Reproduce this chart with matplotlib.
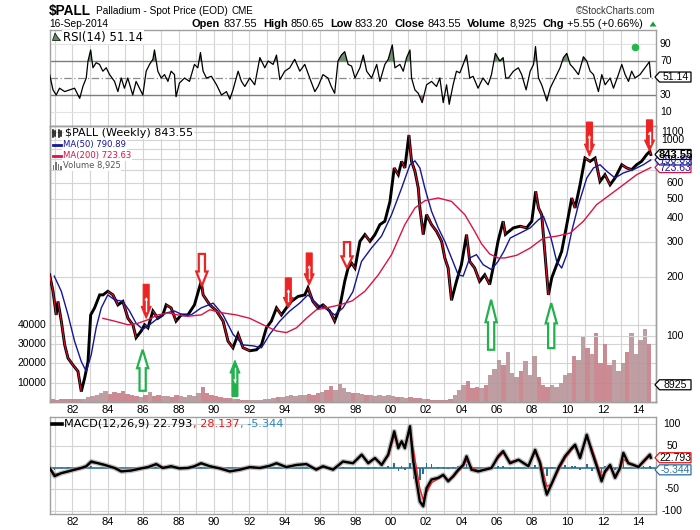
import numpy as np
import matplotlib
matplotlib.use("Agg")
import matplotlib.pyplot as plt
from matplotlib.patches import Polygon, Rectangle
from matplotlib.lines import Line2D
from matplotlib.ticker import NullLocator
from matplotlib.collections import LineCollection

# ---------------- data ----------------
price_t = [1980.71, 1980.90, 1981.08, 1981.18, 1981.37, 1981.56, 1981.75, 1982.03, 1982.31, 1982.50,
           1982.69, 1982.88, 1983.03, 1983.25, 1983.54, 1983.73, 1984.00, 1984.29, 1984.57, 1984.85,
           1985.14, 1985.42, 1985.60, 1985.89, 1986.08, 1986.27, 1986.55, 1986.83, 1987.11, 1987.30,
           1987.58, 1987.86, 1988.15, 1988.53, 1988.90, 1989.28, 1989.39, 1989.77, 1990.15, 1990.52,
           1990.80, 1991.08, 1991.37, 1991.65, 1992.03, 1992.41, 1992.69, 1992.97, 1993.25, 1993.54,
           1993.82, 1994.10, 1994.38, 1994.76, 1995.14, 1995.32, 1995.60, 1995.89, 1996.17, 1996.55,
           1996.83, 1997.11, 1997.40, 1997.59, 1997.79, 1997.98, 1998.26, 1998.54, 1998.83, 1999.11,
           1999.39, 1999.67, 1999.96, 2000.20, 2000.43, 2000.62, 2000.80, 2001.03, 2001.18, 2001.37,
           2001.56, 2001.65, 2001.84, 2002.03, 2002.31, 2002.59, 2002.88, 2003.06, 2003.25, 2003.44,
           2003.72, 2004.00, 2004.29, 2004.47, 2004.75, 2005.03, 2005.32, 2005.60, 2005.79, 2006.07,
           2006.36, 2006.49, 2006.66, 2006.94, 2007.32, 2007.69, 2007.98, 2008.20, 2008.36, 2008.54,
           2008.73, 2008.92, 2009.11, 2009.39, 2009.67, 2009.96, 2010.24, 2010.43, 2010.71, 2010.99,
           2011.28, 2011.56, 2011.84, 2012.12, 2012.41, 2012.69, 2013.07, 2013.35, 2013.63, 2013.91,
           2014.19, 2014.47, 2014.66, 2014.71]
price_v = [205, 169, 128, 150, 119, 90, 77, 71, 66, 52,
           61, 74, 128, 139, 162, 162, 169, 162, 144, 150,
           123, 114, 98, 106, 114, 110, 134, 123, 128, 144,
           139, 119, 128, 128, 144, 190, 162, 144, 134, 119,
           94, 87, 102, 87, 84, 85, 90, 110, 119, 139,
           128, 139, 150, 159, 162, 176, 150, 139, 144, 134,
           119, 139, 190, 222, 235, 222, 304, 329, 304, 329,
           370, 385, 486, 720, 665, 778, 720, 1060, 778, 693,
           569, 450, 329, 416, 370, 342, 304, 250, 222, 152,
           190, 231, 329, 240, 222, 190, 205, 183, 222, 304,
           385, 330, 340, 356, 363, 356, 385, 547, 450, 416,
           260, 162, 198, 231, 270, 370, 506, 450, 591, 809,
           778, 809, 615, 665, 591, 640, 748, 720, 706, 748,
           778, 841, 876, 843.55]

ma50_t = [1980.97, 1981.37, 1981.75, 1982.12, 1982.50, 1982.78, 1983.06, 1983.34, 1983.63, 1984.00,
          1984.38, 1984.85, 1985.23, 1985.60, 1985.98, 1986.36, 1986.83, 1987.30, 1987.77, 1988.24,
          1988.71, 1989.28, 1989.96, 1990.52, 1991.08, 1991.65, 1992.22, 1992.69, 1993.16, 1993.73,
          1994.29, 1994.85, 1995.32, 1995.89, 1996.45, 1996.83, 1997.30, 1997.86, 1998.35, 1998.91,
          1999.48, 2000.05, 2000.62, 2001.09, 2001.37, 2001.65, 2001.93, 2002.31, 2002.69, 2003.06,
          2003.44, 2003.82, 2004.10, 2004.47, 2004.85, 2005.23, 2005.70, 2006.07, 2006.40, 2006.76,
          2007.32, 2007.89, 2008.36, 2008.64, 2009.02, 2009.39, 2009.67, 2009.96, 2010.24, 2010.62,
          2011.09, 2011.47, 2011.84, 2012.22, 2012.69, 2013.16, 2013.72, 2014.29, 2014.71]
ma50_v = [202, 169, 128, 94, 74, 66, 80, 110, 139, 162,
          153, 150, 134, 116, 108, 114, 123, 131, 134, 128,
          128, 139, 147, 128, 102, 90, 89, 87, 102, 119,
          134, 147, 162, 144, 136, 128, 139, 168, 240, 281,
          323, 416, 569, 748, 783, 720, 569, 433, 356, 304,
          250, 205, 202, 250, 260, 231, 218, 240, 270, 316,
          335, 356, 392, 408, 329, 240, 222, 260, 342, 468,
          640, 720, 748, 693, 640, 679, 706, 748, 790.89]

ma200_t = [1983.72, 1984.38, 1985.14, 1985.70, 1986.27, 1986.83, 1987.40, 1987.96, 1988.53, 1989.28,
           1989.77, 1990.52, 1991.27, 1992.03, 1992.78, 1993.54, 1994.10, 1994.67, 1995.23, 1995.80,
           1996.36, 1997.11, 1997.82, 1998.54, 1999.30, 2000.05, 2000.80, 2001.37, 2001.93, 2002.69,
           2003.44, 2004.19, 2004.75, 2005.14, 2005.60, 2006.07, 2006.45, 2007.13, 2007.89, 2008.64,
           2009.39, 2010.15, 2010.90, 2011.65, 2012.41, 2013.16, 2013.91, 2014.71]
ma200_v = [123, 119, 114, 116, 121, 128, 131, 128, 126, 128,
           136, 131, 128, 123, 114, 106, 104, 110, 123, 136,
           139, 144, 151, 169, 205, 260, 370, 450, 490, 506,
           486, 416, 342, 295, 262, 250, 250, 258, 281, 316,
           323, 335, 385, 468, 526, 591, 665, 723.63]

vol_start, vol_step = 1980.75, 0.25
vol_v = [1500, 1200, 1800, 1500, 1300, 1600, 1400, 1800, 2500,
         3000, 3500, 4500, 5500, 4000, 5000, 4500, 5500, 4000, 3500, 3000, 2800,
         3500, 5000, 3000, 3500, 3000, 3200, 2800, 3500, 3000, 2800, 3500, 3000,
         4500, 8000, 4500, 3500, 3000, 2500, 2000, 2000, 1500, 1500, 1200, 1200,
         1200, 1000, 1200, 1500, 1500, 2000, 2500, 2500, 3000, 3500, 3000, 3500,
         3500, 4000, 3500, 4500, 5000, 6000, 8500, 6000, 9500, 7000, 5000, 4500,
         4500, 4000, 3500, 3500, 3000, 3500, 3000, 3500, 3000, 2500, 2500, 2000,
         2500, 2000, 2000, 1500, 1500, 1200, 1200, 1000, 1200, 1500, 3500, 6000,
         9000, 11000, 7000, 8000, 7000, 9000, 14000, 17000, 22000, 19000, 26000, 15000,
         13000, 16000, 21000, 14000, 24000, 13000, 9000, 8000, 9000, 8000, 10000, 14000,
         15000, 24000, 22000, 34000, 28000, 25000, 36000, 20000, 30000, 19000, 22000, 16000,
         20000, 26000, 36000, 25000, 32000, 38000, 30000]

rsi_t = [1980.71, 1980.90, 1981.08, 1981.27, 1981.56, 1981.84, 1982.12, 1982.41, 1982.59, 1982.78,
         1982.88, 1983.03, 1983.16, 1983.34, 1983.53, 1983.72, 1983.91, 1984.10, 1984.38, 1984.57,
         1984.76, 1984.94, 1985.13, 1985.41, 1985.60, 1985.79, 1985.98, 1986.17, 1986.36, 1986.55,
         1986.64, 1986.83, 1987.02, 1987.21, 1987.40, 1987.58, 1987.77, 1987.86, 1988.05, 1988.34,
         1988.62, 1988.90, 1989.09, 1989.24, 1989.39, 1989.58, 1989.86, 1990.15, 1990.43, 1990.71,
         1990.90, 1991.08, 1991.37, 1991.56, 1991.75, 1992.03, 1992.31, 1992.60, 1992.88, 1993.07,
         1993.35, 1993.54, 1993.73, 1994.01, 1994.29, 1994.57, 1994.86, 1995.14, 1995.42, 1995.71,
         1995.89, 1996.17, 1996.45, 1996.64, 1996.83, 1997.02, 1997.21, 1997.40, 1997.59, 1997.79,
         1997.98, 1998.26, 1998.45, 1998.64, 1998.92, 1999.21, 1999.39, 1999.67, 1999.86, 2000.09,
         2000.24, 2000.52, 2000.71, 2000.90, 2001.09, 2001.18, 2001.37, 2001.56, 2001.78, 2002.03,
         2002.31, 2002.59, 2002.78, 2002.97, 2003.16, 2003.31, 2003.53, 2003.72, 2003.91, 2004.10,
         2004.29, 2004.47, 2004.66, 2004.94, 2005.22, 2005.51, 2005.70, 2005.92, 2006.17, 2006.36,
         2006.51, 2006.66, 2006.94, 2007.22, 2007.41, 2007.66, 2007.89, 2008.08, 2008.19, 2008.36,
         2008.54, 2008.73, 2008.83, 2009.02, 2009.30, 2009.58, 2009.77, 2009.96, 2010.15, 2010.33,
         2010.62, 2010.90, 2011.09, 2011.28, 2011.47, 2011.75, 2011.94, 2012.13, 2012.41, 2012.60,
         2012.88, 2013.07, 2013.26, 2013.45, 2013.63, 2013.82, 2014.10, 2014.38, 2014.63, 2014.71]
rsi_v = [54, 36, 30, 38, 34, 36, 38, 26, 40, 50,
         70, 83, 62, 68, 66, 58, 62, 54, 46, 34,
         50, 38, 50, 30, 46, 38, 30, 58, 66, 72,
         83, 58, 50, 54, 46, 58, 54, 28, 44, 50,
         46, 66, 62, 80, 58, 50, 52, 42, 30, 34,
         25, 36, 58, 46, 40, 50, 42, 74, 62, 70,
         66, 77, 48, 58, 62, 72, 58, 66, 50, 34,
         40, 54, 50, 40, 32, 70, 77, 81, 66, 64,
         50, 62, 77, 58, 50, 66, 46, 66, 72, 89,
         62, 66, 58, 74, 83, 50, 36, 32, 21, 42,
         46, 40, 50, 21, 42, 19, 42, 58, 56, 66,
         77, 50, 52, 38, 50, 42, 54, 79, 70, 74,
         50, 50, 58, 62, 54, 36, 58, 66, 87, 50,
         42, 30, 23, 38, 50, 62, 74, 79, 66, 62,
         54, 75, 70, 58, 54, 34, 54, 42, 50, 38,
         54, 66, 54, 46, 58, 50, 54, 62, 69, 51.14]
rsi_dot_t = [2013.84]
rsi_dot_v = [86.5]

macd_t = [1980.71, 1980.99, 1981.37, 1981.75, 1982.12, 1982.50, 1982.78, 1983.06, 1983.44, 1983.82,
          1984.38, 1984.76, 1985.32, 1985.89, 1986.27, 1986.74, 1987.11, 1987.58, 1988.05, 1988.53,
          1988.90, 1989.28, 1989.77, 1990.33, 1990.90, 1991.47, 1992.03, 1992.60, 1993.16, 1993.54,
          1994.10, 1994.67, 1995.23, 1995.79, 1996.17, 1996.74, 1997.30, 1997.87, 1998.36, 1998.73,
          1999.11, 1999.49, 1999.86, 2000.20, 2000.43, 2000.62, 2000.80, 2001.09, 2001.28, 2001.46,
          2001.65, 2001.84, 2002.03, 2002.31, 2002.69, 2002.97, 2003.25, 2003.54, 2003.82, 2004.10,
          2004.29, 2004.57, 2004.95, 2005.32, 2005.70, 2006.08, 2006.36, 2006.75, 2007.23, 2007.79,
          2008.17, 2008.45, 2008.64, 2008.83, 2009.11, 2009.49, 2009.86, 2010.24, 2010.43, 2010.71,
          2011.09, 2011.37, 2011.75, 2011.93, 2012.12, 2012.41, 2012.69, 2012.97, 2013.16, 2013.44,
          2013.72, 2014.01, 2014.29, 2014.66, 2014.71]
macd_v = [-1, -20, -13, -9, -5, -1, 3, 14, 10, 6,
          -1, -9, -7, -2, 1, 8, -1, 3, -2, -1,
          3, 10, 3, -2, -9, -5, 1, -1, 4, 10,
          1, 6, 8, -5, 3, -5, 14, 10, 30, 10,
          22, 6, 30, 84, 45, 61, 45, 96, 14, -32,
          -79, -90, -48, -28, -24, -17, -32, -20, -5, 6,
          26, -5, -9, -5, -1, 26, 38, 10, 18, 3,
          41, 10, -32, -63, -37, -1, 26, 45, 53, 22,
          76, 38, -9, -32, -9, 6, -24, -1, 34, 10,
          6, 1, 14, 30, 22.793]

label_years = list(range(1982, 2015, 2))
year_labels = ['82', '84', '86', '88', '90', '92', '94', '96', '98', '00',
               '02', '04', '06', '08', '10', '12', '14']
rsi_ticks = [90, 70, 30, 10]
price_ticks = [1100, 1000, 900, 800, 700, 600, 500, 400, 300, 200, 100]
price_tick_labels = [1100, 1000, 600, 500, 400, 300, 200, 100]
vol_ticks = [40000, 30000, 20000, 10000]
macd_ticks = [100, 50, -50, -100]

# annotation arrows (tip position in data units)
arrow_t = [1986.17, 1989.32, 1994.21, 1995.39, 1997.53, 2011.24, 2014.64, 1985.97, 1991.19, 2005.68, 2009.08]
arrow_p = [123, 180, 139, 182, 222, 828, 880, 85, 75, 153, 147]
arrow_up = [False, False, False, False, False, False, False, True, True, True, True]
arrow_filled = [True, False, True, True, False, True, True, False, True, False, False]
arrow_len = [34, 32, 30, 32, 26, 34, 31, 41, 36, 50, 45]

# ---------------- layout ----------------
W, H = 700, 530
fig = plt.figure(figsize=(7, 5.3), dpi=100)
fig.patch.set_facecolor('white')
renderer = fig.canvas.get_renderer()
ARIAL = ['Liberation Sans', 'DejaVu Sans']
VERD = ['DejaVu Sans']
GRID = '#d4d4d4'
BORDER = '#a0a0a0'
PL, PR = 50, 656
TICK_FS = 7.5


def fx(x):
    return x / W


def fy(y):
    return 1 - y / H


ax_rsi = fig.add_axes([fx(PL), fy(126), (PR - PL) / W, 96 / H])
ax_vol = fig.add_axes([fx(PL), fy(402), (PR - PL) / W, 276 / H])
ax_main = fig.add_axes([fx(PL), fy(402), (PR - PL) / W, 276 / H], sharex=ax_vol)
ax_main.patch.set_visible(False)
ax_macd = fig.add_axes([fx(PL), fy(514), (PR - PL) / W, 97 / H])

x0 = 1980.73
XL = (x0, x0 + (PR - PL) / 17.68)
for ax in (ax_rsi, ax_vol, ax_main, ax_macd):
    ax.set_xlim(XL)
ax_rsi.set_ylim(-6.5, 106.5)
ax_main.set_yscale('log')
ax_main.set_ylim(46.0, 1179)
ax_vol.set_ylim(0, 143000)
ax_macd.set_ylim(-108, 117.4)

for ax in (ax_rsi, ax_vol, ax_main, ax_macd):
    ax.xaxis.set_major_locator(NullLocator())
    ax.xaxis.set_minor_locator(NullLocator())
    ax.yaxis.set_major_locator(NullLocator())
    ax.yaxis.set_minor_locator(NullLocator())
    for sp in ax.spines.values():
        sp.set_color(BORDER)
        sp.set_linewidth(1.0)

# gridlines
for yr in range(1981, 2015):
    for ax in (ax_rsi, ax_vol, ax_macd):
        ax.axvline(yr, color=GRID, lw=0.8, zorder=0)
for p in price_ticks:
    ax_main.axhline(p, color=GRID, lw=0.8, zorder=0)
for v in vol_ticks:
    ax_vol.axhline(v, color=GRID, lw=0.8, zorder=0)
for v in (90, 10):
    ax_rsi.axhline(v, color='#e2e2e2', lw=0.8, zorder=0)
for v in (100, 50, -50, -100):
    ax_macd.axhline(v, color=GRID, lw=0.8, zorder=0)

# ---------------- RSI ----------------
rt = np.array(rsi_t)
rv = np.array(rsi_v)
ax_rsi.axhline(70, color='#7c7c7c', lw=1.0, zorder=1)
ax_rsi.axhline(30, color='#7c7c7c', lw=1.0, zorder=1)
ax_rsi.axhline(50, color='#8a8a8a', lw=0.9, dashes=(6, 2, 1, 2), zorder=1)
ax_rsi.fill_between(rt, rv, 70, where=rv >= 70, interpolate=True, color='#6e906e', lw=0, zorder=2)
ax_rsi.fill_between(rt, rv, 30, where=rv <= 30, interpolate=True, color='#a06c6c', lw=0, zorder=2)
ax_rsi.plot(rt, rv, color='black', lw=0.9, zorder=3)
ax_rsi.plot(rsi_dot_t, rsi_dot_v, 'o', color='#22b84a', ms=4.5, mec='#22b84a', zorder=4)

# ---------------- volume ----------------
pt = np.array(price_t)
pv = np.array(price_v)
vt = vol_start + vol_step * np.arange(len(vol_v))
vcol = []
for t in vt:
    a = np.interp(t, pt, pv)
    b = np.interp(t + vol_step, pt, pv)
    vcol.append('#c77f87' if b < a else '#b79498')
ax_vol.bar(vt, vol_v, width=vol_step, align='edge', color=vcol, alpha=0.9, lw=0, zorder=1)

# ---------------- price & moving averages ----------------
ax_main.plot(pt, pv, color='black', lw=2.1, zorder=3, solid_joinstyle='miter')
segs = [[(pt[i], pv[i]), (pt[i + 1], pv[i + 1])] for i in range(len(pt) - 1) if pv[i + 1] < pv[i]]
ax_main.add_collection(LineCollection(segs, colors='#e4102c', linewidths=0.8, zorder=4))
ax_main.plot(ma50_t, ma50_v, color='#15159a', lw=1.0, zorder=5)
ax_main.plot(ma200_t, ma200_v, color='#dc1246', lw=1.0, zorder=5)

# ---------------- MACD ----------------
mt = np.array(macd_t)
mv = np.array(macd_v, dtype=float)
sig = np.empty_like(mv)
sig[0] = mv[0]
for i in range(1, len(mv)):
    a = 1 - np.exp(-(mt[i] - mt[i - 1]) / 0.2)
    sig[i] = sig[i - 1] + a * (mv[i] - sig[i - 1])
hist = mv - sig
ax_macd.axhline(0, color='#2c6f95', lw=1.2, zorder=1)
ax_macd.bar(mt, hist, width=0.09, color='#2c6f95', lw=0, zorder=2)
ax_macd.plot(mt, mv, color='#a0a0a0', lw=3.6, alpha=0.7, zorder=3, solid_capstyle='round')
ax_macd.plot(mt, sig, color='#ff1a1a', lw=1.0, zorder=4)
ax_macd.plot(mt, mv, color='black', lw=1.7, zorder=5)


# ---------------- helpers for text ----------------
def fit_text(xa, xb, y, s, fam, weight='normal', color='black', va='baseline', base=8, **kw):
    t = fig.text(fx(xa), fy(y), s, fontsize=base, family=fam, weight=weight,
                 color=color, va=va, ha='left', **kw)
    w = t.get_window_extent(renderer).width
    t.set_fontsize(base * (xb - xa) / w)
    return t


def fit_runs(xa, xb, y, runs, fam, base=8, va='baseline'):
    texts, widths = [], []
    for s, wgt, col, gap in runs:
        t = fig.text(0, 0, s, fontsize=base, family=fam, weight=wgt, color=col, va=va, ha='left')
        texts.append(t)
        widths.append(t.get_window_extent(renderer).width)
    em = base * 100 / 72
    total = sum(widths) + sum(r[3] for r in runs) * em
    k = (xb - xa) / total
    x = xa
    for t, w, r in zip(texts, widths, runs):
        x += r[3] * em * k
        t.set_fontsize(base * k)
        t.set_position((fx(x), fy(y)))
        x += w * k


def ypix(ax, val):
    return H - ax.transData.transform((2000, val))[1]


def xpix(yr):
    return ax_main.transData.transform((yr, 100))[0]


# ---------------- header ----------------
fit_text(49, 91, 15, '$PALL', ARIAL, weight='bold')
fit_text(96, 228, 14.5, 'Palladium - Spot Price (EOD)', ARIAL)
fit_text(232, 254, 14.5, 'CME', ARIAL)
fit_text(576, 656, 14.5, '\u00a9StockCharts.com', ARIAL, color='#333333')
fit_text(49, 109, 27, '16-Sep-2014', ARIAL)
fit_runs(192, 643, 27, [
    ('Open', 'bold', 'black', 0), ('837.55', 'normal', 'black', 0.28),
    ('High', 'bold', 'black', 0.55), ('850.65', 'normal', 'black', 0.28),
    ('Low', 'bold', 'black', 0.55), ('833.20', 'normal', 'black', 0.28),
    ('Close', 'bold', 'black', 0.55), ('843.55', 'normal', 'black', 0.28),
    ('Volume', 'bold', 'black', 0.55), ('8,925', 'normal', 'black', 0.28),
    ('Chg', 'bold', 'black', 0.55), ('+5.55 (+0.66%)', 'normal', 'black', 0.28)], ARIAL)
fig.add_artist(Polygon([(fx(649.5), fy(26.5)), (fx(656.5), fy(26.5)), (fx(653), fy(21.5))],
                       closed=True, transform=fig.transFigure, facecolor='#1d9a3c', edgecolor='none'))

# ---------------- legends ----------------
WB = dict(facecolor='white', edgecolor='none', pad=0.6)
fig.add_artist(Polygon([(fx(52.5), fy(40.5)), (fx(55), fy(33)), (fx(57.5), fy(37)), (fx(60.5), fy(40.5))],
                       closed=True, transform=fig.transFigure, facecolor='#5c8c5c',
                       edgecolor='black', lw=0.5, zorder=5))
fit_text(63, 143, 37, 'RSI(14) 51.14', VERD, va='center', bbox=WB)
for xi, (ya, yb) in zip((53, 55.5, 58.5, 61), ((130, 137), (131, 136), (130, 137), (131, 136))):
    fig.add_artist(Line2D([fx(xi), fx(xi)], [fy(ya), fy(yb)], color='black', lw=1.1,
                          transform=fig.transFigure, zorder=5))
fit_text(65, 194, 133.5, '$PALL (Weekly) 843.55', VERD, va='center', bbox=WB)
fig.add_artist(Line2D([fx(52.5), fx(61)], [fy(144.5), fy(144.5)], color='#15159a', lw=2,
                      transform=fig.transFigure, zorder=5))
fit_text(63, 126, 144.5, 'MA(50) 790.89', VERD, va='center', color='#15159a', bbox=WB)
fig.add_artist(Line2D([fx(52.5), fx(61)], [fy(155.5), fy(155.5)], color='#dc1246', lw=2,
                      transform=fig.transFigure, zorder=5))
fit_text(63, 131, 155.5, 'MA(200) 723.63', VERD, va='center', color='#dc1246', bbox=WB)
for xi, hh in zip((52.5, 55, 57.5, 60), (5, 8, 6, 4)):
    fig.add_artist(Rectangle((fx(xi), fy(170)), 1.8 / W, hh / H, transform=fig.transFigure,
                             facecolor='#777777', edgecolor='none', zorder=5))
fit_text(63, 121, 166, 'Volume 8,925', VERD, va='center', color='#555555', bbox=WB)
fig.add_artist(Line2D([fx(52), fx(62)], [fy(424), fy(424)], color='black', lw=2.6,
                      transform=fig.transFigure, zorder=5))
fit_runs(64.5, 283, 424, [('MACD(12,26,9) 22.793', 'normal', 'black', 0),
                          (', 28.137', 'normal', '#ee1111', 0),
                          (', -5.344', 'normal', '#2a86bd', 0)], VERD, va='center')

# ---------------- axis labels ----------------
for v in rsi_ticks:
    fig.text(fx(660), fy(ypix(ax_rsi, v)), str(v), ha='left', va='center', fontsize=TICK_FS, family=ARIAL)
for p in price_tick_labels:
    fig.text(fx(684), fy(ypix(ax_main, p)), str(p), ha='right', va='center', fontsize=TICK_FS, family=ARIAL)
for v in vol_ticks:
    fig.text(fx(46), fy(ypix(ax_vol, v)), str(v), ha='right', va='center', fontsize=TICK_FS, family=ARIAL)
for v in macd_ticks:
    fig.text(fx(672), fy(ypix(ax_macd, v)), str(v), ha='center', va='center', fontsize=TICK_FS, family=ARIAL)
for yr, lab in zip(label_years, year_labels):
    for yy in (410, 522):
        fig.text(fx(xpix(yr)), fy(yy), lab, ha='center', va='center', fontsize=8, family=ARIAL)


# ---------------- value boxes ----------------
def vbox(yc, s, edge, tcolor, bold=False, xa=655, xb=691, h=10.0, fs=7.5):
    pts = [(xa, yc), (xa + 4.5, yc - h / 2), (xb, yc - h / 2), (xb, yc + h / 2), (xa + 4.5, yc + h / 2)]
    fig.add_artist(Polygon([(fx(x), fy(y)) for x, y in pts], closed=True, transform=fig.transFigure,
                           facecolor='white', edgecolor=edge, lw=0.9, zorder=20))
    fig.text(fx((xa + 4.5 + xb) / 2 + 0.3), fy(yc + 0.3), s, ha='center', va='center', fontsize=fs,
             family=ARIAL, weight='bold' if bold else 'normal', color=tcolor, zorder=21)


vbox(ypix(ax_rsi, rsi_v[-1]), '51.14', 'black', 'black')
vbox(ypix(ax_main, ma200_v[-1]), '723.63', '#dc1246', '#15159a')
vbox(ypix(ax_main, ma50_v[-1]), '790.89', '#15159a', '#15159a')
vbox(ypix(ax_main, price_v[-1]), '843.55', 'black', 'black', bold=True, fs=8)
vbox(ypix(ax_vol, 8925), '8925', 'black', 'black')
vbox(ypix(ax_macd, macd_v[-1]), '22.793', '#ee1111', 'black')
vbox(ypix(ax_macd, -5.344), '-5.344', '#2a6f9f', '#2a6f9f')


# ---------------- annotation arrows ----------------
def draw_arrow(t, p, up, filled, L):
    X, Y = ax_main.transData.transform((t, p))
    col = '#22b14c' if up else '#ee2424'
    s = -1 if up else 1
    if filled:
        hl, wh, ws = 0.35 * L, 5.0, 3.0
    else:
        hl, wh, ws = 0.45 * L, 5.6, 3.1
    pts = [(X, Y), (X + wh, Y + s * hl), (X + ws, Y + s * hl), (X + ws, Y + s * L),
           (X - ws, Y + s * L), (X - ws, Y + s * hl), (X - wh, Y + s * hl)]
    fig.add_artist(Polygon([(a / W, b / H) for a, b in pts], closed=True, transform=fig.transFigure,
                           facecolor=col if filled else 'white', edgecolor=col,
                           lw=0.8 if filled else 1.6, zorder=10))
    if filled:
        ya, yb = Y + s * 0.22 * L, Y + s * 0.6 * L
        fig.add_artist(Line2D([X / W, X / W], [ya / H, yb / H], color='white', lw=1.0,
                              transform=fig.transFigure, zorder=11))
        fig.add_artist(Polygon([((X - 1.8) / W, (yb - s * 2.5) / H), ((X + 1.8) / W, (yb - s * 2.5) / H),
                                (X / W, (yb + s * 0.5) / H)], closed=True, transform=fig.transFigure,
                               facecolor='white', edgecolor='none', zorder=11))


for t, p, u, f, L in zip(arrow_t, arrow_p, arrow_up, arrow_filled, arrow_len):
    draw_arrow(t, p, u, f, L)

fig.savefig('out.png', dpi=100)
